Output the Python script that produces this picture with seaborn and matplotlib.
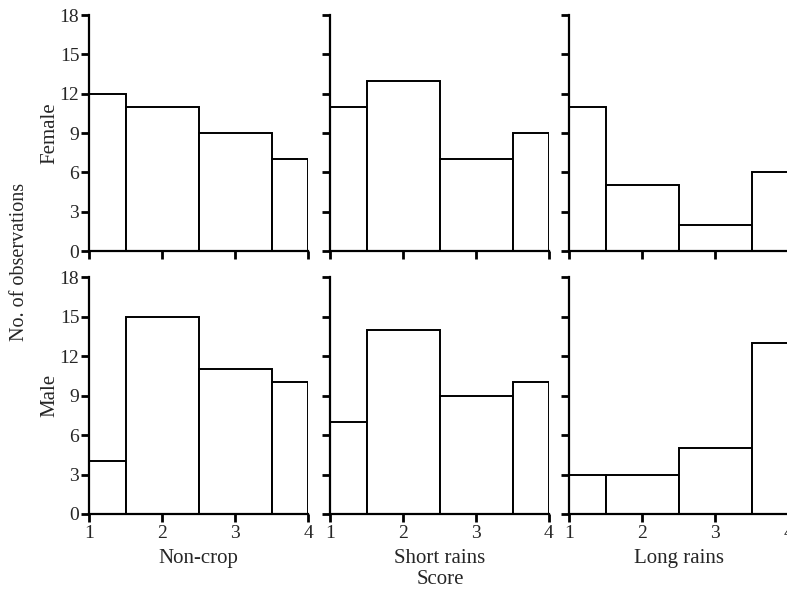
import numpy as np
import pandas as pd
import matplotlib
matplotlib.use("Agg")
import matplotlib.pyplot as plt
import seaborn as sns

# ---- data ----
scores = [1.25, 2.0, 3.0, 3.75]          # bin centres
bin_edges = [1, 1.5, 2.5, 3.5, 4]
seasons = ["Non-crop", "Short rains", "Long rains"]
sexes = ["Female", "Male"]
female_noncrop = [12, 11, 9, 7]
female_short = [11, 13, 7, 9]
female_long = [11, 5, 2, 6]
male_noncrop = [4, 15, 11, 10]
male_short = [7, 14, 9, 10]
male_long = [3, 3, 5, 13]
y_ticks = [0, 3, 6, 9, 12, 15, 18]
x_ticks = [1, 2, 3, 4]

counts = {
    ("Female", "Non-crop"): female_noncrop,
    ("Female", "Short rains"): female_short,
    ("Female", "Long rains"): female_long,
    ("Male", "Non-crop"): male_noncrop,
    ("Male", "Short rains"): male_short,
    ("Male", "Long rains"): male_long,
}

sns.set_style("ticks")
plt.rcParams["font.family"] = ["Liberation Serif", "DejaVu Serif"]
plt.rcParams["font.size"] = 12

W, H = 787, 595
fig = plt.figure(figsize=(W / 100, H / 100), dpi=100)

lefts = [89, 330, 569]
width = 219
rows = {"Female": (15, 251), "Male": (277, 514)}

for r, sex in enumerate(sexes):
    top, bot = rows[sex]
    for c, season in enumerate(seasons):
        ax = fig.add_axes([lefts[c] / W, 1 - bot / H, width / W, (bot - top) / H])
        df = pd.DataFrame({"score": scores, "n": counts[(sex, season)]})
        sns.histplot(data=df, x="score", weights="n", bins=bin_edges, ax=ax,
                     color="white", edgecolor="black", linewidth=1.4, alpha=1)
        ax.set_xlim(1, 4)
        ax.set_ylim(0, 18)
        ax.set_yticks(y_ticks)
        ax.set_xticks(x_ticks)
        sns.despine(ax=ax)
        for s in ("left", "bottom"):
            ax.spines[s].set_linewidth(1.6)
            ax.spines[s].set_color("black")
        ax.tick_params(axis="y", length=6, width=2, color="black",
                       labelsize=14, pad=1)
        ax.tick_params(axis="x", length=6, width=2, color="black",
                       labelsize=14, pad=2)
        ax.set_ylabel("")
        ax.set_xlabel("")
        if c == 0:
            ax.set_ylabel(sex, fontsize=15, labelpad=0)
        else:
            ax.set_yticklabels([])
        if r == 0:
            ax.set_xticklabels([])
        else:
            ax.set_xlabel(season, fontsize=15, labelpad=5)

fig.text(20 / W, 1 - 262 / H, "No. of observations", rotation=90,
         ha="center", va="center", fontsize=14.5)
fig.text(440 / W, 1 - 579 / H, "Score", ha="center", va="center", fontsize=15)

fig.savefig("out.png", dpi=100)
